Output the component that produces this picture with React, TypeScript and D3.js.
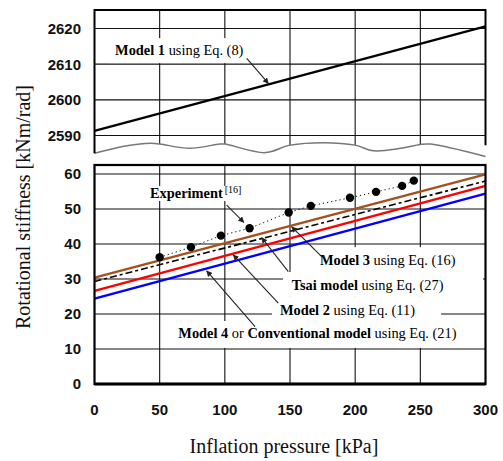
import React from "react";
import * as d3 from "d3";

// ---------- data ----------
const xTicks = [0, 50, 100, 150, 200, 250, 300];
const topTicks = [2590, 2600, 2610, 2620];
const bottomTicks = [0, 10, 20, 30, 40, 50, 60];

const pressure = [0, 300];
const model1 = [2591.3, 2620.6];
const model3 = [30.4, 59.9];
const tsai = [29.3, 58.0];
const model2 = [26.6, 56.6];
const model4 = [24.4, 54.4];

const expPressure = [50, 74, 97, 119, 149, 166, 196, 216, 236, 245];
const expStiffness = [36.2, 39.1, 42.4, 44.5, 49.0, 50.9, 53.2, 54.9, 56.6, 58.1];

// axis-break wave (kPa, top-panel units)
const waveX = [0, 25, 43, 50, 73, 96, 100, 131, 150, 176, 200, 214, 235, 250, 258, 300];
const waveY = [2585.0, 2587.1, 2587.8, 2587.6, 2586.4, 2587.6, 2587.6, 2585.2, 2587.3, 2588.0, 2587.3, 2585.7, 2586.4, 2587.5, 2587.6, 2584.1];

// ---------- layout ----------
const W = 503, H = 461;
const X0 = 94.5, X1 = 485.5;
const TOP_Y = 10;
const BOT_TOP = 165;

const x = d3.scaleLinear().domain([0, 300]).range([X0, X1]);
const yTop = d3.scaleLinear().domain([2590, 2620]).range([135.5, 28.5]);
const yBot = d3.scaleLinear().domain([0, 60]).range([384, 174]);

const SERIF = "'Liberation Serif', 'Times New Roman', serif";
const SANS = "'Liberation Sans', Arial, sans-serif";

type Part = { t: string; b?: boolean; sup?: boolean };
type Label = {
  panel: "top" | "bot";
  parts: Part[];
  at: [number, number];
  box: [number, number, number, number];
  from: [number, number];
  to: [number, number];
};

const labels: Label[] = [
  {
    panel: "top",
    parts: [{ t: "Model 1", b: true }, { t: " using Eq. (8)" }],
    at: [15.8, 2612.6],
    box: [10.4, 2617.3, 119.3, 2610.3],
    from: [116.8, 2611.6],
    to: [133.4, 2604.6],
  },
  {
    panel: "bot",
    parts: [{ t: "Experiment", b: true }, { t: "[16]", sup: true }],
    at: [42.6, 53.1],
    box: [38.7, 56.6, 117.8, 52.3],
    from: [101.4, 51.1],
    to: [114.6, 46.2],
  },
  {
    panel: "bot",
    parts: [{ t: "Model 3", b: true }, { t: " using Eq. (16)" }],
    at: [173, 34],
    box: [153.8, 39.1, 297.3, 32],
    from: [174.3, 36.4],
    to: [151.3, 44.9],
  },
  {
    panel: "bot",
    parts: [{ t: "Tsai model", b: true }, { t: " using Eq. (27)" }],
    at: [151.3, 26.9],
    box: [144.6, 32, 298.1, 24.9],
    from: [148.7, 32.1],
    to: [128.3, 41.8],
  },
  {
    panel: "bot",
    parts: [{ t: "Model 2", b: true }, { t: " using Eq. (11)" }],
    at: [142.3, 19.7],
    box: [136.2, 24.9, 265.9, 18],
    from: [141.0, 23.1],
    to: [106.5, 36.9],
  },
  {
    panel: "bot",
    parts: [
      { t: "Model 4", b: true },
      { t: " or " },
      { t: "Conventional model", b: true },
      { t: " using Eq. (21)" },
    ],
    at: [64.3, 13.1],
    box: [57.9, 18, 289.6, 10.3],
    from: [123.2, 16.4],
    to: [86.1, 32.3],
  },
];

export default function App() {
  const lineTop = d3
    .line<number>()
    .x((_, i) => x(pressure[i]))
    .y((d) => yTop(d));
  const lineBot = d3
    .line<number>()
    .x((_, i) => x(pressure[i]))
    .y((d) => yBot(d));
  const expLine = d3
    .line<number>()
    .x((_, i) => x(expPressure[i]))
    .y((d) => yBot(d));
  const wave = d3
    .line<number>()
    .x((_, i) => x(waveX[i]))
    .y((d) => yTop(d))
    .curve(d3.curveCatmullRom.alpha(0.5));
  const waveArea = d3
    .area<number>()
    .x((_, i) => x(waveX[i]))
    .y0(0)
    .y1((d) => yTop(d))
    .curve(d3.curveCatmullRom.alpha(0.5));

  const ys = (l: Label) => (l.panel === "top" ? yTop : yBot);

  return (
    <svg
      width={W}
      height={H}
      style={{ position: "absolute", left: 0, top: 0, background: "#fff" }}
    >
      <defs>
        <clipPath id="topClip">
          <path d={waveArea(waveY) || ""} />
        </clipPath>
        <marker
          id="arr"
          viewBox="0 0 10 10"
          refX="9"
          refY="5"
          markerWidth="6"
          markerHeight="6"
          orient="auto"
          markerUnits="userSpaceOnUse"
        >
          <path d="M0,0 L10,5 L0,10 z" fill="#222" />
        </marker>
      </defs>
      <rect x={0} y={0} width={W} height={H} fill="#fff" />

      {/* ---------- top panel grid ---------- */}
      <g clipPath="url(#topClip)">
        {xTicks.slice(1, -1).map((t) => (
          <line key={t} x1={x(t)} x2={x(t)} y1={TOP_Y} y2={170} stroke="#111" strokeWidth={1.1} />
        ))}
      </g>
      {topTicks.map((t) => (
        <line key={t} x1={X0} x2={X1} y1={yTop(t)} y2={yTop(t)} stroke="#111" strokeWidth={1.1} />
      ))}

      {/* ---------- bottom panel grid ---------- */}
      {xTicks.slice(1, -1).map((t) => (
        <line key={t} x1={x(t)} x2={x(t)} y1={BOT_TOP} y2={yBot(0)} stroke="#111" strokeWidth={1.1} />
      ))}
      {bottomTicks.slice(1).map((t) => (
        <line key={t} x1={X0} x2={X1} y1={yBot(t)} y2={yBot(t)} stroke="#111" strokeWidth={1.1} />
      ))}

      {/* label background boxes */}
      {labels.map((l, i) => {
        const s = ys(l);
        const bx0 = x(l.box[0]);
        const bx1 = x(l.box[2]);
        const by0 = s(l.box[1]);
        const by1 = s(l.box[3]);
        return <rect key={i} x={bx0} y={by0} width={bx1 - bx0} height={by1 - by0} fill="#fff" />;
      })}

      {/* ---------- series ---------- */}
      <path d={lineTop(model1) || ""} fill="none" stroke="#000" strokeWidth={2.2} />
      <path d={lineBot(model4) || ""} fill="none" stroke="#0000ff" strokeWidth={2.5} />
      <path d={lineBot(model2) || ""} fill="none" stroke="#ff0000" strokeWidth={2.5} />
      <path d={lineBot(model3) || ""} fill="none" stroke="#a5501e" strokeWidth={2.5} />
      <path
        d={lineBot(tsai) || ""}
        fill="none"
        stroke="#000"
        strokeWidth={1.6}
        strokeDasharray="7,3,3,3"
      />
      <path
        d={expLine(expStiffness) || ""}
        fill="none"
        stroke="#000"
        strokeWidth={1}
        strokeDasharray="1.2,3"
      />
      {expStiffness.map((v, i) => (
        <circle key={i} cx={x(expPressure[i])} cy={yBot(v)} r={4.2} fill="#000" />
      ))}

      {/* break wave */}
      <path d={wave(waveY) || ""} fill="none" stroke="#777" strokeWidth={1.5} />

      {/* ---------- frames ---------- */}
      <path
        d={`M${X0},${yTop(waveY[0])} L${X0},${TOP_Y} L${X1},${TOP_Y} L${X1},${yTop(2587.3)}`}
        fill="none"
        stroke="#000"
        strokeWidth={2}
      />
      <rect x={X0} y={BOT_TOP} width={X1 - X0} height={yBot(0) - BOT_TOP} fill="none" stroke="#000" strokeWidth={2.2} />
      <line x1={X0} x2={X1} y1={yBot(0)} y2={yBot(0)} stroke="#000" strokeWidth={3} />

      {/* ---------- leaders & labels ---------- */}
      {labels.map((l, i) => {
        const s = ys(l);
        return (
          <g key={i}>
            <line
              x1={x(l.from[0])}
              y1={s(l.from[1])}
              x2={x(l.to[0])}
              y2={s(l.to[1])}
              stroke="#222"
              strokeWidth={1.1}
              markerEnd="url(#arr)"
            />
            <text
              x={x(l.at[0])}
              y={s(l.at[1])}
              fontFamily={SERIF}
              fontSize={14.4}
              fill="#000"
              style={{ whiteSpace: "pre" }}
            >
              {l.parts.map((p, j) =>
                p.sup ? (
                  <tspan key={j} fontSize={10} dx={2} dy={-5}>
                    {p.t}
                  </tspan>
                ) : (
                  <tspan key={j} fontWeight={p.b ? "bold" : "normal"}>
                    {p.t}
                  </tspan>
                )
              )}
            </text>
          </g>
        );
      })}

      {/* ---------- tick labels ---------- */}
      {topTicks.map((t) => (
        <text
          key={t}
          x={81}
          y={yTop(t)}
          dy="0.36em"
          textAnchor="end"
          fontFamily={SANS}
          fontWeight="bold"
          fontSize={15}
          fill="#111"
        >
          {t}
        </text>
      ))}
      {bottomTicks.map((t) => (
        <text
          key={t}
          x={81}
          y={yBot(t)}
          dy="0.36em"
          textAnchor="end"
          fontFamily={SANS}
          fontWeight="bold"
          fontSize={15}
          fill="#111"
        >
          {t}
        </text>
      ))}
      {xTicks.map((t) => (
        <text
          key={t}
          x={x(t)}
          y={415}
          textAnchor="middle"
          fontFamily={SANS}
          fontWeight="bold"
          fontSize={15}
          fill="#111"
        >
          {t}
        </text>
      ))}

      {/* ---------- axis titles ---------- */}
      <text
        x={284}
        y={453}
        textAnchor="middle"
        fontFamily={SERIF}
        fontSize={20}
        fill="#111"
      >
        Inflation pressure [kPa]
      </text>
      <text
        transform="translate(30,207) rotate(-90)"
        textAnchor="middle"
        fontFamily={SERIF}
        fontSize={20}
        fill="#111"
      >
        Rotational stiffness [kNm/rad]
      </text>
    </svg>
  );
}
